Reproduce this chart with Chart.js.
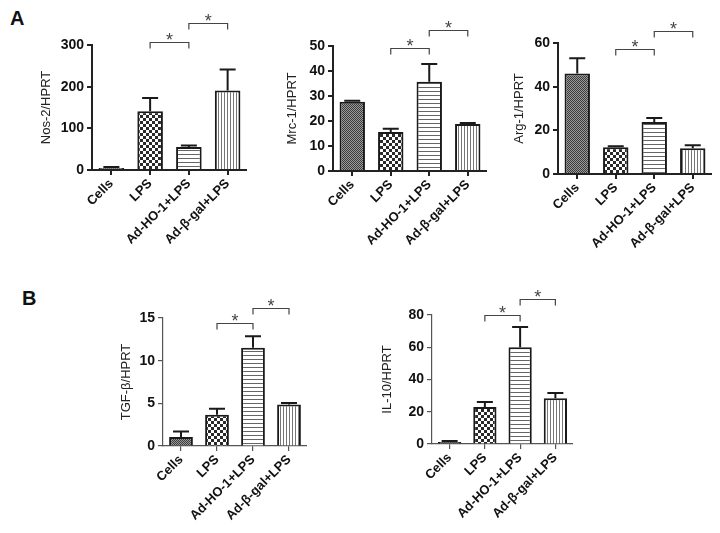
<!DOCTYPE html>
<html>
<head>
<meta charset="utf-8">
<script src="https://cdn.jsdelivr.net/npm/chart.js@4.4.1/dist/chart.umd.min.js"></script>
<style>
  body { margin: 0; background: #fff; width: 720px; height: 533px; position: relative; overflow: hidden;
         font-family: "Liberation Sans", Arial, sans-serif; }
  canvas { position: absolute; }
  .lbl { position: absolute; font-weight: bold; font-size: 20px; color: #111; }
</style>
</head>
<body>
<div class="lbl" style="left:10px;top:7px">A</div>
<div class="lbl" style="left:22px;top:287px">B</div>
<canvas id="c1"></canvas>
<canvas id="c2"></canvas>
<canvas id="c3"></canvas>
<canvas id="c4"></canvas>
<canvas id="c5"></canvas>
<script>
const groups = ["Cells", "LPS", "Ad-HO-1+LPS", "Ad-β-gal+LPS"];

const nos2Mean = [5, 141, 55, 191];
const nos2Err  = [2, 32, 4, 50];
const mrc1Mean = [27.7, 15.6, 35.7, 18.8];
const mrc1Err  = [0.4, 1.3, 7.1, 0.4];
const arg1Mean = [46, 12.2, 23.8, 11.8];
const arg1Err  = [7, 0.5, 1.8, 1.4];
const tgfbMean = [1.05, 3.65, 11.5, 4.85];
const tgfbErr  = [0.65, 0.72, 1.35, 0.2];
const il10Mean = [1.2, 23, 60, 28.3];
const il10Err  = [0.6, 3, 12.5, 3.3];

// significance brackets: bar pairs and the y level of each bracket
const sigPairs = [[1, 2], [2, 3]];
const nos2Sig = [308, 353];
const mrc1Sig = [49.3, 56.3];
const arg1Sig = [57.1, 65.5];
const tgfbSig = [14.4, 16.2];
const il10Sig = [80, 90.2];

Chart.defaults.font.family = "'Liberation Sans', Arial, sans-serif";

function makePattern(kind) {
  const c = document.createElement("canvas");
  const g = c.getContext("2d");
  if (kind === "cells") {
    c.width = 2; c.height = 2;
    g.fillStyle = "#9a9a9a"; g.fillRect(0, 0, 2, 2);
    g.fillStyle = "#3c3c3c"; g.fillRect(0, 0, 1, 1); g.fillRect(1, 1, 1, 1);
  } else if (kind === "lps") {
    c.width = 6; c.height = 6;
    g.fillStyle = "#fff"; g.fillRect(0, 0, 6, 6);
    g.fillStyle = "#2a2a2a"; g.fillRect(0, 0, 3, 3); g.fillRect(3, 3, 3, 3);
  } else if (kind === "hline") {
    c.width = 4; c.height = 4;
    g.fillStyle = "#fff"; g.fillRect(0, 0, 4, 4);
    g.fillStyle = "#666"; g.fillRect(0, 0, 4, 1);
  } else {
    c.width = 3; c.height = 3;
    g.fillStyle = "#fff"; g.fillRect(0, 0, 3, 3);
    g.fillStyle = "#777"; g.fillRect(0, 0, 1, 3);
  }
  return g.createPattern(c, "repeat");
}

const fills = [makePattern("cells"), makePattern("lps"), makePattern("hline"), makePattern("vline")];

const errorBars = {
  id: "errorBars",
  afterDatasetsDraw(chart, args, opts) {
    const { ctx } = chart;
    const y = chart.scales.y;
    const meta = chart.getDatasetMeta(0);
    const vals = chart.data.datasets[0].data;
    ctx.save();
    ctx.strokeStyle = "#1a1a1a";
    ctx.lineWidth = 2;
    meta.data.forEach((el, i) => {
      const top = y.getPixelForValue(vals[i] + opts.err[i]);
      ctx.beginPath();
      ctx.moveTo(el.x, el.y);
      ctx.lineTo(el.x, top);
      ctx.moveTo(el.x - 8, top);
      ctx.lineTo(el.x + 8, top);
      ctx.stroke();
    });
    ctx.restore();
  }
};

const brackets = {
  id: "brackets",
  afterDraw(chart, args, opts) {
    const { ctx } = chart;
    const y = chart.scales.y;
    const meta = chart.getDatasetMeta(0);
    ctx.save();
    ctx.strokeStyle = "#444";
    ctx.fillStyle = "#444";
    ctx.lineWidth = 1.2;
    ctx.font = "18px 'Liberation Sans', Arial, sans-serif";
    ctx.textAlign = "center";
    ctx.textBaseline = "alphabetic";
    sigPairs.forEach((p, k) => {
      const x1 = meta.data[p[0]].x, x2 = meta.data[p[1]].x;
      const yy = Math.round(y.getPixelForValue(opts.levels[k])) + 0.5;
      ctx.beginPath();
      ctx.moveTo(x1, yy + 6);
      ctx.lineTo(x1, yy);
      ctx.lineTo(x2, yy);
      ctx.lineTo(x2, yy + 6);
      ctx.stroke();
      ctx.fillText("*", (x1 + x2) / 2, yy + 3);
    });
    ctx.restore();
  }
};

function makePanel(id, box, title, means, errs, levels, yMax, yStep, axisColor, axisWidth) {
  const cv = document.getElementById(id);
  const top = box.areaTop - 35;
  const w = box.right - box.left;
  const h = box.areaBottom - top + 95;
  cv.width = w; cv.height = h;
  cv.style.left = box.left + "px";
  cv.style.top = top + "px";
  return new Chart(cv, {
    type: "bar",
    data: {
      labels: groups,
      datasets: [{
        data: means,
        backgroundColor: fills,
        borderColor: "#1a1a1a",
        borderWidth: 2,
        borderSkipped: "bottom",
        barPercentage: 0.66,
        categoryPercentage: 1
      }]
    },
    options: {
      responsive: false,
      animation: false,
      layout: { padding: { top: 35, right: 0, left: 0, bottom: 0 } },
      plugins: {
        legend: { display: false },
        tooltip: { enabled: false },
        errorBars: { err: errs },
        brackets: { levels: levels }
      },
      scales: {
        x: {
          afterFit: s => { s.height = 95; },
          border: { display: true, color: axisColor, width: axisWidth },
          grid: { offset: false, drawOnChartArea: false, drawTicks: true, tickLength: 5, color: axisColor, lineWidth: axisWidth },
          ticks: { autoSkip: false, minRotation: 45, maxRotation: 45, padding: 1, color: "#111",
                   font: { size: 13, weight: "bold" } }
        },
        y: {
          min: 0, max: yMax,
          afterFit: s => { s.width = box.axisX - box.left; },
          border: { display: true, color: axisColor, width: axisWidth },
          grid: { drawOnChartArea: false, drawTicks: true, tickLength: 5, color: axisColor, lineWidth: axisWidth },
          ticks: { stepSize: yStep, padding: 3, color: "#111", font: { size: 14, weight: "bold" } },
          title: { display: true, text: title, color: "#222", font: { size: 13 } }
        }
      }
    },
    plugins: [errorBars, brackets]
  });
}

makePanel("c1", { left: 35, axisX: 92, right: 247, areaTop: 45, areaBottom: 170 },
  "Nos-2/HPRT", nos2Mean, nos2Err, nos2Sig, 300, 100, "#222", 2);
makePanel("c2", { left: 281, axisX: 333, right: 487, areaTop: 46, areaBottom: 171 },
  "Mrc-1/HPRT", mrc1Mean, mrc1Err, mrc1Sig, 50, 10, "#222", 2);
makePanel("c3", { left: 508, axisX: 558, right: 712, areaTop: 43, areaBottom: 174 },
  "Arg-1/HPRT", arg1Mean, arg1Err, arg1Sig, 60, 20, "#222", 2);
makePanel("c4", { left: 115, axisX: 163, right: 307, areaTop: 318, areaBottom: 446 },
  "TGF-β/HPRT", tgfbMean, tgfbErr, tgfbSig, 15, 5, "#555", 1.2);
makePanel("c5", { left: 376, axisX: 432, right: 573, areaTop: 315, areaBottom: 444 },
  "IL-10/HPRT", il10Mean, il10Err, il10Sig, 80, 20, "#555", 1.2);
</script>
</body>
</html>
